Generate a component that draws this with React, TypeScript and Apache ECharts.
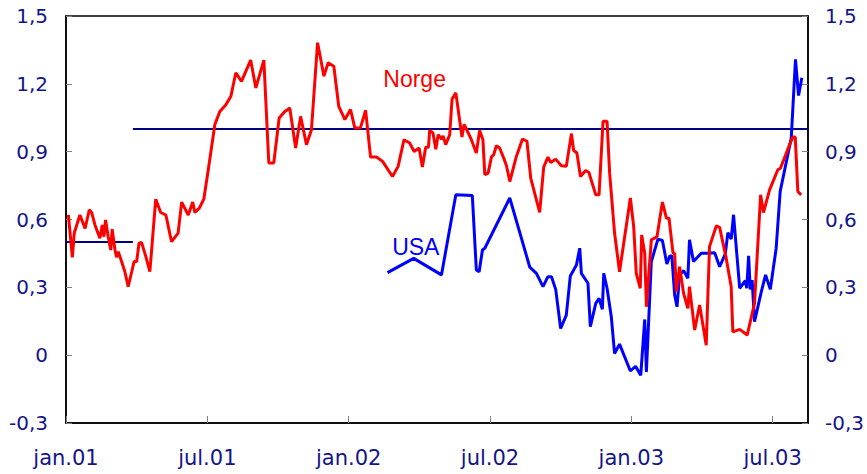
import React, { useEffect, useRef } from "react";
import * as echarts from "echarts";

// x values are months since January 2001
const xTickLabels = ["jan.01", "jul.01", "jan.02", "jul.02", "jan.03", "jul.03"];
const yTicks = [-0.3, 0, 0.3, 0.6, 0.9, 1.2, 1.5];

const norgeMonths = [
  0.10, 0.27, 0.35, 0.59, 0.81, 0.99, 1.09, 1.23, 1.44, 1.54, 1.61, 1.68, 1.79, 1.90, 1.96, 2.08, 2.15, 2.22, 2.36, 2.50,
  2.64, 2.79, 2.89, 3.00, 3.10, 3.21, 3.39, 3.56, 3.81, 4.02, 4.24, 4.48, 4.76, 4.91, 5.19, 5.38, 5.47, 5.66, 5.85, 6.04,
  6.32, 6.53, 6.79, 7.00, 7.21, 7.45, 7.84, 8.06, 8.40, 8.61, 8.82, 9.05, 9.29, 9.50, 9.75, 9.96, 10.21, 10.42, 10.68, 10.95,
  11.13, 11.37, 11.58, 11.84, 12.08, 12.26, 12.50, 12.72, 12.93, 13.18, 13.44, 13.86, 14.10, 14.35, 14.59, 14.78, 14.99, 15.13, 15.27, 15.39,
  15.44, 15.58, 15.70, 15.80, 15.94, 16.01, 16.12, 16.29, 16.39, 16.55, 16.64, 16.81, 16.90, 17.00, 17.21, 17.42, 17.56, 17.70, 17.78, 17.92,
  18.06, 18.16, 18.27, 18.41, 18.60, 18.70, 18.84, 19.12, 19.38, 19.57, 19.73, 20.11, 20.28, 20.46, 20.58, 20.79, 21.03, 21.24, 21.46, 21.55,
  21.69, 21.84, 22.06, 22.20, 22.49, 22.63, 22.80, 22.97, 23.08, 23.29, 23.50, 23.96, 24.10, 24.21, 24.38, 24.44, 24.57, 24.64, 24.85, 25.09,
  25.32, 25.49, 25.60, 25.77, 25.84, 25.91, 26.05, 26.22, 26.40, 26.47, 26.69, 26.90, 27.18, 27.32, 27.61, 27.75, 28.03, 28.24, 28.31, 28.60,
  28.92, 29.23, 29.49, 29.61, 29.87, 30.22, 30.33, 30.72, 30.86, 30.96, 31.07, 31.21,
];
const norgeValues = [
  0.62, 0.433, 0.54, 0.62, 0.56, 0.643, 0.63, 0.576, 0.517, 0.576, 0.524, 0.598, 0.524, 0.465, 0.557, 0.465, 0.433, 0.458, 0.414, 0.369,
  0.303, 0.369, 0.414, 0.414, 0.495, 0.498, 0.436, 0.369, 0.69, 0.631, 0.62, 0.502, 0.54, 0.677, 0.62, 0.677, 0.631, 0.65, 0.69, 0.82,
  1.02, 1.078, 1.108, 1.145, 1.249, 1.211, 1.305, 1.182, 1.305, 0.85, 0.85, 1.049, 1.078, 1.093, 0.916, 1.056, 0.931, 0.997, 1.382, 1.234,
  1.293, 1.278, 1.10, 1.042, 1.086, 1.005, 1.005, 1.083, 0.876, 0.876, 0.857, 0.79, 0.835, 0.953, 0.938, 0.901, 0.916, 0.832, 0.92, 0.92,
  0.994, 0.983, 0.911, 0.975, 0.956, 0.97, 0.931, 0.975, 1.133, 1.16, 1.093, 0.965, 1.02, 1.0, 0.953, 0.894, 0.994, 0.953, 0.798, 0.805,
  0.876, 0.887, 0.926, 0.916, 0.867, 0.838, 0.768, 0.879, 0.956, 0.946, 0.783, 0.631, 0.832, 0.876, 0.852, 0.867, 0.838, 0.835, 0.98, 0.906,
  0.894, 0.79, 0.817, 0.808, 0.709, 0.709, 1.034, 1.034, 0.805, 0.539, 0.369, 0.695, 0.569, 0.362, 0.296, 0.532, 0.451, 0.214, 0.51, 0.524,
  0.677, 0.606, 0.606, 0.451, 0.451, 0.281, 0.391, 0.273, 0.207, 0.303, 0.111, 0.222, 0.044, 0.48, 0.572, 0.565, 0.428, 0.303, 0.103, 0.114,
  0.089, 0.229, 0.709, 0.631, 0.731, 0.82, 0.827, 0.931, 0.965, 0.965, 0.724, 0.709,
];

const usaMonths = [
  13.65, 14.76, 15.94, 16.55, 17.25, 17.42, 17.54, 17.68, 17.78, 18.84, 19.69, 19.97, 20.25, 20.46, 20.61, 20.79, 21.00, 21.24, 21.41, 21.67,
  21.81, 21.88, 22.16, 22.26, 22.49, 22.63, 22.77, 22.83, 22.97, 23.15, 23.29, 23.50, 23.96, 24.18, 24.40, 24.57, 24.64, 24.85, 25.13, 25.32,
  25.51, 25.63, 25.72, 25.84, 25.94, 26.05, 26.22, 26.40, 26.47, 26.64, 26.97, 27.25, 27.54, 27.75, 27.99, 28.10, 28.24, 28.34, 28.60, 28.84,
  28.90, 28.98, 29.05, 29.13, 29.23, 29.52, 29.70, 29.90, 30.15, 30.32, 30.79, 30.97, 31.10, 31.24,
];
const usaValues = [
  0.365, 0.428, 0.355, 0.709, 0.706, 0.377, 0.369, 0.465, 0.473, 0.695, 0.389, 0.362, 0.303, 0.347, 0.347, 0.291, 0.118, 0.177, 0.35, 0.399,
  0.473, 0.362, 0.318, 0.126, 0.229, 0.251, 0.203, 0.362, 0.296, 0.17, 0.007, 0.049, -0.07, -0.049, -0.089, 0.158, -0.074, 0.414, 0.513, 0.507,
  0.403, 0.439, 0.439, 0.266, 0.214, 0.355, 0.374, 0.34, 0.51, 0.414, 0.451, 0.451, 0.453, 0.391, 0.448, 0.542, 0.513, 0.621, 0.296, 0.329,
  0.296, 0.439, 0.291, 0.332, 0.148, 0.281, 0.355, 0.291, 0.473, 0.724, 0.96, 1.308, 1.148, 1.227,
];

// target level lines: [start month, end month, value]
const targetOld = [0, 2.84, 0.5];
const targetNew = [2.84, 31.5, 1.0];

const xMin = 0;
const xMax = 31.5;

const labelNorge = { text: "Norge", month: 14.8, value: 1.222 };
const labelUsa = { text: "USA", month: 14.85, value: 0.479 };

const navy = "#14148a";

export default function App() {
  const ref = useRef<HTMLDivElement>(null);
  useEffect(() => {
    if (!ref.current) return;
    const chart = echarts.init(ref.current, null, { renderer: "svg" });
    const fmtY = (v: number) => {
      const r = Math.round(v * 10) / 10;
      return yTicks.some((t) => Math.abs(t - r) < 1e-6) ? String(r).replace(".", ",") : "";
    };
    const yAxisBase = {
      type: "value" as const,
      min: -0.3,
      max: 1.5,
      interval: 0.3,
      splitLine: { show: false },
      axisLine: { show: true, onZero: false, lineStyle: { color: "#000", width: 1.5 } },
      axisTick: { show: true, inside: true, length: 6, lineStyle: { color: "#808080", width: 1 } },
      axisLabel: {
        formatter: fmtY,
        color: navy,
        fontFamily: "DejaVu Sans",
        fontSize: 20,
      },
    };
    chart.setOption({
      animation: false,
      backgroundColor: "#fff",
      grid: {
        left: 66,
        right: 59,
        top: 16,
        bottom: 51,
        show: true,
        borderColor: "#000",
        borderWidth: 1.5,
        backgroundColor: "transparent",
      },
      xAxis: {
        type: "value",
        min: xMin,
        max: xMax,
        interval: 6,
        splitLine: { show: false },
        axisLine: { show: true, onZero: false, lineStyle: { color: "#000", width: 1.5 } },
        axisTick: { show: true, inside: true, length: 7, lineStyle: { color: "#808080", width: 1 } },
        axisLabel: {
          margin: 24,
          color: navy,
          fontFamily: "DejaVu Sans",
          fontSize: 21,
          showMaxLabel: false,
          formatter: (v: number) => {
            const k = Math.round(v / 6);
            return Math.abs(v - k * 6) < 1e-6 && k < xTickLabels.length ? xTickLabels[k] : "";
          },
        },
      },
      yAxis: [
        { ...yAxisBase, position: "left", axisLabel: { ...yAxisBase.axisLabel, margin: 18 } },
        { ...yAxisBase, position: "right", axisLabel: { ...yAxisBase.axisLabel, margin: 17 } },
      ],
      series: [
        {
          type: "line",
          name: "target1",
          data: [
            [targetOld[0], targetOld[2]],
            [targetOld[1], targetOld[2]],
          ],
          symbol: "none",
          lineStyle: { color: "#000080", width: 2 },
          z: 1,
        },
        {
          type: "line",
          name: "target2",
          data: [
            [targetNew[0], targetNew[2]],
            [targetNew[1], targetNew[2]],
          ],
          symbol: "none",
          lineStyle: { color: "#000080", width: 2 },
          z: 1,
        },
        {
          type: "line",
          name: "Norge",
          data: norgeMonths.map((m, i) => [m, norgeValues[i]]),
          symbol: "none",
          lineStyle: { color: "#ff0000", width: 3 },
          z: 3,
          markPoint: {
            symbol: "circle",
            symbolSize: 0,
            label: {
              show: true,
              formatter: labelNorge.text,
              color: "#ff0000",
              fontFamily: "Liberation Sans",
              fontSize: 23,
            },
            data: [{ coord: [labelNorge.month, labelNorge.value] }],
          },
        },
        {
          type: "line",
          name: "USA",
          data: usaMonths.map((m, i) => [m, usaValues[i]]),
          symbol: "none",
          lineStyle: { color: "#0000ff", width: 3 },
          z: 2,
          markPoint: {
            symbol: "circle",
            symbolSize: 0,
            label: {
              show: true,
              formatter: labelUsa.text,
              color: "#0000ff",
              fontFamily: "Liberation Sans",
              fontSize: 23,
            },
            data: [{ coord: [labelUsa.month, labelUsa.value] }],
          },
        },
      ],
    });
    return () => chart.dispose();
  }, []);
  return <div ref={ref} style={{ width: 867, height: 474, position: "absolute", left: 0, top: 0 }} />;
}
